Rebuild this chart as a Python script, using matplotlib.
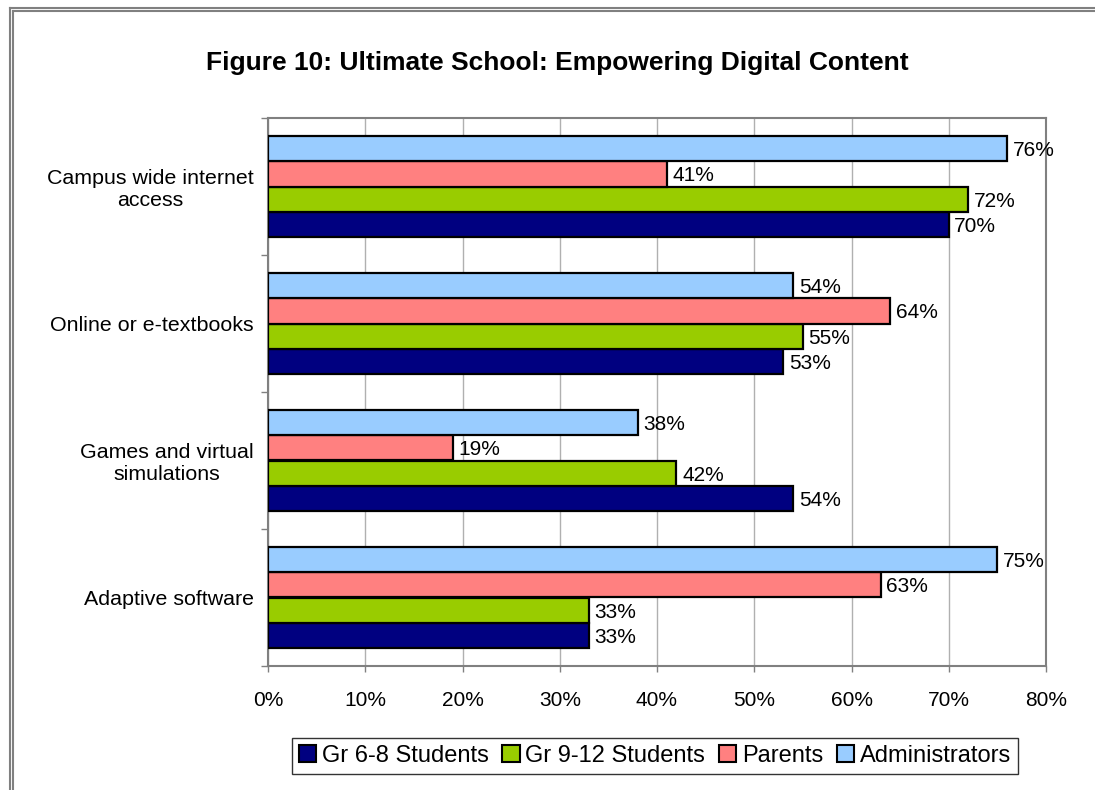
import matplotlib
matplotlib.use("Agg")
import matplotlib.pyplot as plt
from matplotlib.lines import Line2D
import numpy as np

plt.rcParams['font.family'] = ['Liberation Sans', 'DejaVu Sans']

title = "Figure 10: Ultimate School: Empowering Digital Content"
categories = ["Campus wide internet\naccess", "Online or e-textbooks",
              "Games and virtual\nsimulations", "Adaptive software"]
series_names = ["Gr 6-8 Students", "Gr 9-12 Students", "Parents", "Administrators"]
gr68 = [70, 53, 54, 33]
gr912 = [72, 55, 42, 33]
parents = [41, 64, 19, 63]
admins = [76, 54, 38, 75]
colors = ["#000080", "#99CC00", "#FF8080", "#99CCFF"]
xticks = [0, 10, 20, 30, 40, 50, 60, 70, 80]

W, H = 1095, 790
fig = plt.figure(figsize=(W / 100, H / 100), dpi=100)
ax = fig.add_axes([268 / W, 1 - 666 / H, (1046 - 268) / W, (666 - 118) / H])

h = 0.184
offsets = [1.5 * h, 0.5 * h, -0.5 * h, -1.5 * h]
ypos = np.arange(len(categories))
all_series = [gr68, gr912, parents, admins]
for vals, off, col, name in zip(all_series, offsets, colors, series_names):
    bars = ax.barh(ypos + off, vals, height=h, color=col, edgecolor="black",
                   linewidth=1.6, zorder=3, label=name)
    for b, v in zip(bars, vals):
        ax.annotate(f"{v}%", (v, b.get_y() + b.get_height() / 2),
                    xytext=(4, -1.5), textcoords="offset points",
                    ha="left", va="center", fontsize=15, zorder=4)

ax.set_xlim(0, 80)
ax.set_ylim(len(categories) - 0.5, -0.5)
ax.set_xticks(xticks)
ax.set_xticklabels([f"{t}%" for t in xticks], fontsize=15)
ax.tick_params(axis="x", direction="out", length=4, width=1, color="#808080", pad=14)
ax.grid(axis="x", color="#b0b0b0", linewidth=1, zorder=0)

ax.set_yticks(np.arange(len(categories) + 1) - 0.5)
ax.set_yticklabels([])
ax.tick_params(axis="y", which="major", direction="out", length=5, width=1, color="#808080")
ax.set_yticks(ypos, minor=True)
ax.set_yticklabels(categories, minor=True, fontsize=15.4, multialignment="center")
ax.tick_params(axis="y", which="minor", length=0, pad=10)

for s in ax.spines.values():
    s.set_color("#808080")
    s.set_linewidth(1.5)

fig.text(557 / W, 1 - 63 / H, title, ha="center", va="center",
         fontsize=19, fontweight="bold")

leg = fig.legend(handles=[plt.Rectangle((0, 0), 1, 1, facecolor=c, edgecolor="black", linewidth=1.5)
                          for c in colors],
                 labels=series_names, loc="center", bbox_to_anchor=(655 / W, 1 - 756 / H),
                 ncol=4, fontsize=17, frameon=True, fancybox=False, edgecolor="black",
                 handlelength=0.72, handleheight=0.72, handletextpad=0.25,
                 columnspacing=0.58, borderpad=0.3, borderaxespad=0)
leg.get_frame().set_linewidth(1.0)

# double border lines
for x in (9.5, 12.5):
    fig.add_artist(Line2D([x / W, x / W], [0, 1 - (x - 2) / H], transform=fig.transFigure,
                          color="#808080", linewidth=1.5))
for y in (7.5, 10.5):
    fig.add_artist(Line2D([(y + 2) / W, 1], [1 - y / H, 1 - y / H], transform=fig.transFigure,
                          color="#808080", linewidth=1.5))

fig.savefig("out.png", dpi=100)
